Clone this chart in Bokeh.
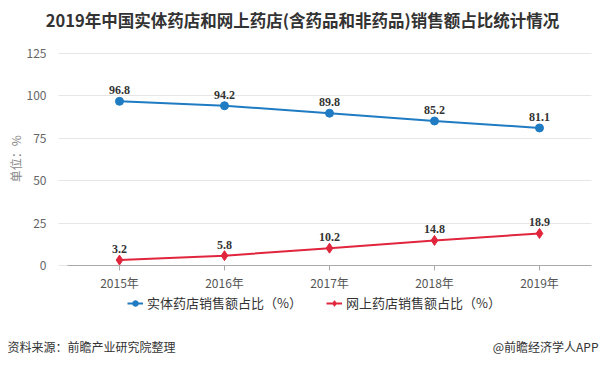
from bokeh.plotting import figure
from bokeh.models import (ColumnDataSource, Label, LabelSet, Legend, LegendItem,
                          FixedTicker, Range1d)
from bokeh.embed import file_html
from bokeh.resources import INLINE

years = ["2015年", "2016年", "2017年", "2018年", "2019年"]
physical = [96.8, 94.2, 89.8, 85.2, 81.1]
online = [3.2, 5.8, 10.2, 14.8, 18.9]
y_ticks = [0, 25, 50, 75, 100, 125]

FONT = "Noto Sans CJK SC"
NUMFONT = "Liberation Sans"
BLUE = "#1f7bc2"
RED = "#e0253d"

xs = list(range(len(years)))
src_p = ColumnDataSource(dict(x=xs, y=physical, t=[f"{v:.1f}" for v in physical]))
src_o = ColumnDataSource(dict(x=xs, y=online, t=[f"{v:.1f}" for v in online]))

# frame covers the whole canvas; axes are pinned at fixed data locations
p = figure(width=605, height=367, output_backend="svg", toolbar_location=None,
           x_range=Range1d(-1.1333, 4.6286), y_range=Range1d(-60.14, 156.25),
           min_border=0, min_border_left=0, min_border_right=0,
           min_border_top=0, min_border_bottom=0)
p.outline_line_color = None

p.xgrid.grid_line_color = None
p.ygrid.grid_line_color = "#e6e6e6"
p.ygrid.ticker = FixedTicker(ticks=y_ticks)
p.ygrid.cross_bounds = (-0.581, 4.5)

p.yaxis.fixed_location = -0.581
p.yaxis.ticker = FixedTicker(ticks=y_ticks)
p.yaxis.axis_line_color = None
p.yaxis.major_tick_line_color = None
p.yaxis.minor_tick_line_color = None
p.yaxis.major_label_text_color = "#666666"
p.yaxis.major_label_text_font = FONT
p.yaxis.major_label_text_font_size = "12px"
p.yaxis.major_label_standoff = 6

p.xaxis.fixed_location = 0
p.xaxis.bounds = (-0.495, 4.5)
p.xaxis.ticker = FixedTicker(ticks=xs)
p.xaxis.major_label_overrides = {i: y for i, y in enumerate(years)}
p.xaxis.axis_line_color = "#aaaaaa"
p.xaxis.major_tick_line_color = "#aaaaaa"
p.xaxis.major_tick_in = 0
p.xaxis.major_tick_out = 5
p.xaxis.minor_tick_line_color = None
p.xaxis.major_label_text_color = "#555555"
p.xaxis.major_label_text_font = FONT
p.xaxis.major_label_text_font_size = "12px"
p.xaxis.major_label_standoff = 3

l1 = p.line("x", "y", source=src_p, line_color=BLUE, line_width=2)
s1 = p.scatter("x", "y", source=src_p, marker="circle", size=8,
               fill_color=BLUE, line_color=BLUE)
l2 = p.line("x", "y", source=src_o, line_color=RED, line_width=2)
s2 = p.scatter("x", "y", source=src_o, marker="diamond", size=10,
               fill_color=RED, line_color=RED)

for src in (src_p, src_o):
    p.add_layout(LabelSet(x="x", y="y", text="t", source=src, y_offset=7,
                          text_align="center", text_baseline="bottom",
                          text_font=NUMFONT, text_font_size="12px",
                          text_font_style="bold", text_color="#333333"))

legend = Legend(items=[
    LegendItem(label="实体药店销售额占比（%）", renderers=[l1, s1]),
    LegendItem(label="网上药店销售额占比（%）", renderers=[l2, s2]),
], orientation="horizontal", location=(127, 55), padding=0, margin=0,
    spacing=24, label_standoff=4, glyph_width=16, glyph_height=14,
    label_text_font=FONT, label_text_font_size="13px",
    label_text_color="#333333", border_line_color=None,
    background_fill_alpha=0)
p.add_layout(legend, "center")

p.add_layout(Label(x=1.743, y=144.46, text="2019年中国实体药店和网上药店(含药品和非药品)销售额占比统计情况",
                   text_align="center", text_baseline="middle", text_font=FONT,
                   text_font_size="16.5px", text_font_style="bold",
                   text_color="#333333"))
p.add_layout(Label(x=-0.99, y=63, text="单位：%", angle=1.5708,
                   text_align="center", text_baseline="middle", text_font=FONT,
                   text_font_size="12px", text_color="#888888"))
p.add_layout(Label(x=-1.0667, y=-47.76, text="资料来源：前瞻产业研究院整理",
                   text_align="left", text_baseline="middle", text_font=FONT,
                   text_font_size="12px", text_color="#333333"))
p.add_layout(Label(x=4.562, y=-47.76, text="@前瞻经济学人APP",
                   text_align="right", text_baseline="middle", text_font=FONT,
                   text_font_size="12px", text_color="#333333"))

open("out.html", "w").write(file_html(p, INLINE))
